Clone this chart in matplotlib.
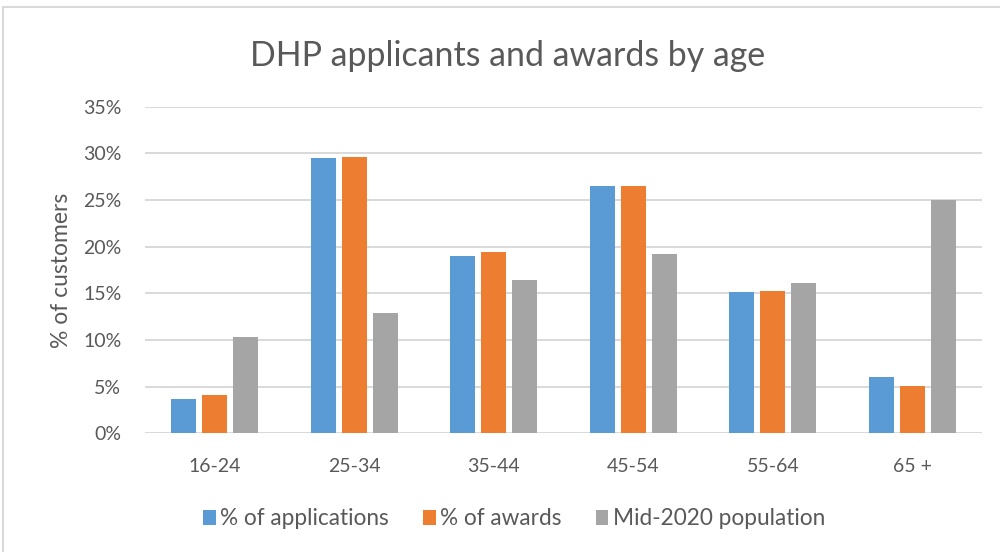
import numpy as np
import matplotlib
matplotlib.use("Agg")
import matplotlib.pyplot as plt
from matplotlib.patches import Rectangle
from matplotlib.ticker import FuncFormatter

plt.rcParams['font.family'] = ['Lato', 'DejaVu Sans']

age_groups = ["16-24", "25-34", "35-44", "45-54", "55-64", "65 +"]
applications = [3.7, 29.5, 19.0, 26.5, 15.1, 6.0]
awards = [4.1, 29.6, 19.4, 26.5, 15.3, 5.1]
population = [10.3, 12.9, 16.4, 19.2, 16.1, 25.0]

series_names = ["% of applications", "% of awards", "Mid-2020 population"]
colors = ["#5B9BD5", "#ED7D31", "#A5A5A5"]
text_color = "#595959"
grid_color = "#D9D9D9"

fig = plt.figure(figsize=(10, 5.52), dpi=100)
ax = fig.add_axes([0.145, 0.215, 0.837, 0.5917])

x = np.arange(len(age_groups))
width = 0.179
step = 0.222
for i, (vals, name, col) in enumerate(zip([applications, awards, population], series_names, colors)):
    ax.bar(x + (i - 1) * step, vals, width, color=col, label=name, zorder=3)

ax.set_xlim(-0.5, len(age_groups) - 0.5)
ax.set_ylim(0, 35)
ax.set_yticks(np.arange(0, 36, 5))
ax.yaxis.set_major_formatter(FuncFormatter(lambda v, p: f"{v:.0f}%"))
ax.set_xticks(x)
ax.set_xticklabels(age_groups)
ax.tick_params(axis="both", length=0, labelsize=14, colors=text_color)
ax.tick_params(axis="y", pad=17)
ax.tick_params(axis="x", pad=18)
ax.grid(axis="y", color=grid_color, linewidth=1.4, zorder=0)
for s in ax.spines.values():
    s.set_visible(False)

ax.set_ylabel("% of customers", fontsize=16.5, color=text_color, labelpad=8)
fig.text(0.508, 1 - 66 / 552, "DHP applicants and awards by age", ha="center", va="baseline",
         fontsize=24.4, color=text_color)

ax.legend(loc="center", bbox_to_anchor=(0.441, -0.262), ncol=3, frameon=False,
          fontsize=16.3, handlelength=0.55, handleheight=0.6, handletextpad=0.2,
          columnspacing=1.5, labelcolor=text_color)

fig.patches.append(Rectangle((0.003, -0.05), 1.1, 1.05 - 7 / 552, transform=fig.transFigure,
                             fill=False, edgecolor=grid_color, linewidth=1.5))

fig.savefig("out.png", dpi=100, facecolor="white")
